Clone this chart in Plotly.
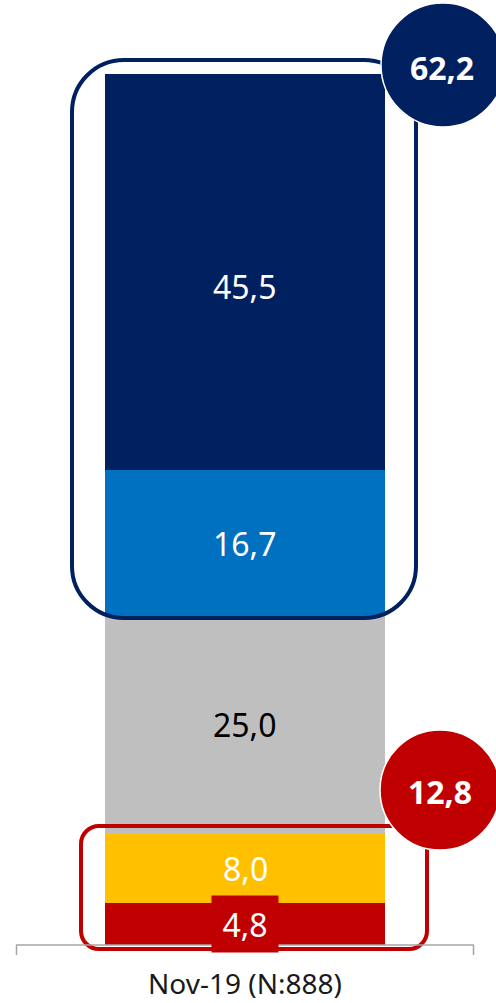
import plotly.graph_objects as go

# ---- data ----
category = ["Nov-19 (N:888)"]
series_names = ["4,8", "8,0", "25,0", "16,7", "45,5"]
values = [4.8, 8.0, 25.0, 16.7, 45.5]          # bottom -> top
colors = ["#C00000", "#FFC000", "#BFBFBF", "#0070C0", "#002060"]
label_colors = ["white", "white", "black", "white", "white"]
label_yshift = [0, 0, 0, 0, -14]
top_group = [3, 4]      # indices summed in navy circle
bottom_group = [0, 1]   # indices summed in red circle

W_FIG, H_FIG = 496, 1003
L, R, T, B = 16, 22, 0, 58
PW, PH = W_FIG - L - R, H_FIG - T - B
FONT = "Noto Sans"


def fmt(v):
    return f"{v:.1f}".replace(".", ",")


def px(x):
    return (x - L) / PW


def py(y):
    return (T + PH - y) / PH


fig = go.Figure()
for i, v in enumerate(values):
    fig.add_trace(go.Bar(
        x=category, y=[v], width=1.0, marker=dict(color=colors[i], line=dict(width=0)),
        hoverinfo="skip", showlegend=False))

# segment labels
cum = 0
for i, v in enumerate(values):
    mid = cum + v / 2
    cum += v
    ann = dict(x=0, y=mid, xref="x", yref="y", text=fmt(v), showarrow=False,
               font=dict(family=FONT, size=32, color=label_colors[i]),
               xanchor="center", yanchor="middle", yshift=label_yshift[i])
    if i == 0:
        ann.update(bgcolor=colors[0], width=64, height=54)
    fig.add_annotation(**ann)


def rounded_path(x0, y0, x1, y1, r):
    k = 0.5523 * r
    pts = [
        ("M", [(x0 + r, y0)]),
        ("L", [(x1 - r, y0)]),
        ("C", [(x1 - r + k, y0), (x1, y0 + r - k), (x1, y0 + r)]),
        ("L", [(x1, y1 - r)]),
        ("C", [(x1, y1 - r + k), (x1 - r + k, y1), (x1 - r, y1)]),
        ("L", [(x0 + r, y1)]),
        ("C", [(x0 + r - k, y1), (x0, y1 - r + k), (x0, y1 - r)]),
        ("L", [(x0, y0 + r)]),
        ("C", [(x0, y0 + r - k), (x0 + r - k, y0), (x0 + r, y0)]),
    ]
    s = ""
    for cmd, ps in pts:
        s += cmd + " " + " ".join(f"{px(a):.5f},{py(b):.5f}" for a, b in ps) + " "
    return s + "Z"


shapes = []
# navy rounded rect
shapes.append(dict(type="path", xref="paper", yref="paper",
                   path=rounded_path(72, 60, 416, 618, 52),
                   line=dict(color="#002060", width=4), fillcolor="rgba(0,0,0,0)"))
# red rounded rect
shapes.append(dict(type="path", xref="paper", yref="paper",
                   path=rounded_path(81, 826, 427, 949, 18),
                   line=dict(color="#C00000", width=4), fillcolor="rgba(0,0,0,0)"))
# axis line + end ticks
shapes.append(dict(type="line", xref="paper", yref="paper", x0=px(16), x1=px(474),
                   y0=py(945), y1=py(945), line=dict(color="#A6A6A6", width=1.5)))
for xx in (16.5, 473.5):
    shapes.append(dict(type="line", xref="paper", yref="paper", x0=px(xx), x1=px(xx),
                       y0=py(945), y1=py(955), line=dict(color="#A6A6A6", width=1.5)))


def circle(cx, cy, r, color):
    return dict(type="circle", xref="paper", yref="paper",
                x0=px(cx - r), x1=px(cx + r), y0=py(cy + r), y1=py(cy - r),
                fillcolor=color, line=dict(color="white", width=1.5), layer="above")


shapes.append(circle(443, 65, 62, "#002060"))
shapes.append(circle(440, 790, 60, "#C00000"))
fig.update_layout(shapes=shapes)

top_sum = sum(values[i] for i in top_group)
bot_sum = sum(values[i] for i in bottom_group)
fig.add_annotation(x=px(442), y=py(67), xref="paper", yref="paper", text=f"<b>{fmt(top_sum)}</b>",
                   showarrow=False, font=dict(family=FONT, size=32, color="white"),
                   xanchor="center", yanchor="middle")
fig.add_annotation(x=px(440), y=py(791), xref="paper", yref="paper", text=f"<b>{fmt(bot_sum)}</b>",
                   showarrow=False, font=dict(family=FONT, size=32, color="white"),
                   xanchor="center", yanchor="middle")

fig.update_layout(
    width=W_FIG, height=H_FIG, barmode="stack", bargap=0,
    margin=dict(l=L, r=R, t=T, b=B),
    paper_bgcolor="white", plot_bgcolor="white",
    xaxis=dict(range=[-229 / 280, 229 / 280], showgrid=False, zeroline=False, showline=False,
               ticks="", tickfont=dict(family=FONT, size=28, color="#1a1a1a"),
               ticklabelstandoff=20, fixedrange=True),
    yaxis=dict(range=[0, PH / 8.71], visible=False, fixedrange=True),
    showlegend=False,
)

fig.write_html("out.html", config={"displayModeBar": False},
               post_script="document.body.style.margin='0';document.body.style.overflow='hidden';")
